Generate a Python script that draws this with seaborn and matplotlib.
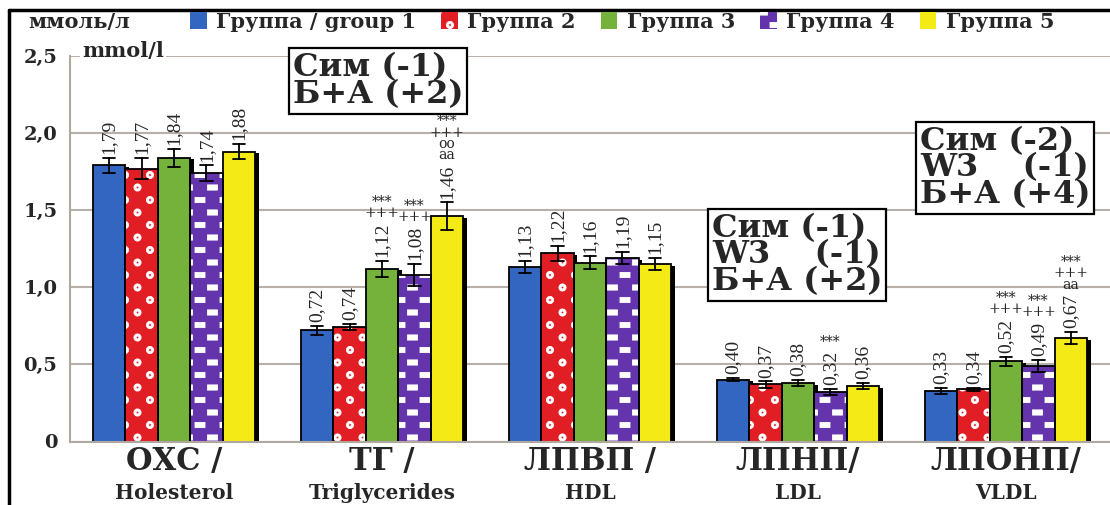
import numpy as np
import pandas as pd
import matplotlib
matplotlib.use("Agg")
import matplotlib.pyplot as plt
import matplotlib.hatch as mhatch
import matplotlib.patheffects as pe
from matplotlib.path import Path
from matplotlib.patches import Rectangle, Patch
from matplotlib.lines import Line2D
import seaborn as sns

# ---------------- data ----------------
lipids = ["ОХС /", "ТГ /", "ЛПВП /", "ЛПНП/", "ЛПОНП/"]
lipids_en = ["Holesterol", "Triglycerides", "HDL", "LDL", "VLDL"]
groups = ["Группа / group 1", "Группа 2", "Группа 3", "Группа 4", "Группа 5"]

g1 = [1.79, 0.72, 1.13, 0.40, 0.33]
g2 = [1.77, 0.74, 1.22, 0.37, 0.34]
g3 = [1.84, 1.12, 1.16, 0.38, 0.52]
g4 = [1.74, 1.08, 1.19, 0.32, 0.49]
g5 = [1.88, 1.46, 1.15, 0.36, 0.67]

e1 = [0.05, 0.03, 0.04, 0.01, 0.02]
e2 = [0.07, 0.02, 0.05, 0.02, 0.01]
e3 = [0.06, 0.05, 0.04, 0.02, 0.03]
e4 = [0.05, 0.07, 0.04, 0.02, 0.04]
e5 = [0.05, 0.09, 0.04, 0.02, 0.04]

sig_lipid = [1, 1, 1, 3, 4, 4, 4]
sig_group = [2, 3, 4, 3, 2, 3, 4]
sig_text = ["***\n+++", "***\n+++", "***\n+++\noo\naa", "***",
            "***\n+++", "***\n+++", "***\n+++\naa"]

box_texts = ["Сим (-1)\nБ+А (+2)",
             "Сим (-1)\nW3    (-1)\nБ+А (+2)",
             "Сим (-2)\nW3    (-1)\nБ+А (+4)"]

colors = ["#3366c0", "#e01e24", "#74b23c", "#6434ac", "#f4ea16"]
hatches = [None, "o", None, "*", None]

values = [g1, g2, g3, g4, g5]
errors = [e1, e2, e3, e4, e5]


# ---------------- custom hatch shapes (staggered dots / dashes) -------------
class _Staggered:
    char = "o"

    def __init__(self, hatch, density):
        n = hatch.count(self.char) if hatch else 0
        pts = []
        if n > 0:
            for r in range(9):
                y = r / 8
                xs = ([0, 0.25, 0.5, 0.75, 1.0] if r % 2 == 0
                      else [0.125, 0.375, 0.625, 0.875])
                for x in xs:
                    pts.append((x, y))
        self.pts = pts
        self.sv, self.sc = self.shape()
        self.num_vertices = len(self.pts) * len(self.sv)

    def set_vertices_and_codes(self, vertices, codes):
        vp, cp = [], []
        for (x, y) in self.pts:
            vp.append(self.sv + [x, y])
            cp.append(self.sc)
        np.concatenate(vp, out=vertices)
        np.concatenate(cp, out=codes)


class RingDots(_Staggered):
    char = "o"

    def shape(self):
        t = np.linspace(0, 2 * np.pi, 25)
        ro, ri = 0.036, 0.014
        outer = np.column_stack([ro * np.cos(t), ro * np.sin(t)])
        inner = np.column_stack([ri * np.cos(t[::-1]), ri * np.sin(t[::-1])])
        v = np.concatenate([outer, inner])
        c = np.full(len(v), Path.LINETO, dtype=Path.code_type)
        c[0] = Path.MOVETO
        c[len(outer) - 1] = Path.CLOSEPOLY
        c[len(outer)] = Path.MOVETO
        c[-1] = Path.CLOSEPOLY
        return v, c


class Dashes(_Staggered):
    char = "*"

    def shape(self):
        w, h = 0.05, 0.026
        v = np.array([[-w, -h], [w, -h], [w, h], [-w, h], [-w, -h]])
        c = np.array([Path.MOVETO, Path.LINETO, Path.LINETO, Path.LINETO,
                      Path.CLOSEPOLY], dtype=Path.code_type)
        return v, c


mhatch._hatch_types = [RingDots, Dashes]

# ---------------- style ----------------
sns.set_style("white")
plt.rcParams["font.family"] = ["DejaVu Serif", "DejaVu Sans"]
plt.rcParams["font.weight"] = "bold"
plt.rcParams["hatch.linewidth"] = 0.6

rows = []
for j, g in enumerate(groups):
    for k, lp in enumerate(lipids):
        v, e = values[j][k], errors[j][k]
        rows.append((lp, g, v - e))
        rows.append((lp, g, v + e))
df = pd.DataFrame(rows, columns=["lipid", "group", "value"])

fig = plt.figure(figsize=(11.1, 5.05), dpi=100)
ax = fig.add_axes([70 / 1110, 1 - 441.5 / 505, 1 - 70 / 1110, 385.5 / 505])

sns.barplot(data=df, x="lipid", y="value", hue="group", order=lipids,
            hue_order=groups, palette=colors, saturation=1, estimator="mean",
            errorbar=lambda x: (x.min(), x.max()), capsize=0.3,
            err_kws={"color": "black", "linewidth": 1.3}, width=0.78, gap=0,
            linewidth=0, legend=False, ax=ax)

label_objs = {}
for j, cont in enumerate(ax.containers):
    for k, p in enumerate(cont):
        p.set_path_effects([pe.SimplePatchShadow(offset=(2.5, -1.2),
                                                 shadow_rgbFace="black", alpha=1.0),
                            pe.Normal()])
        if hatches[j]:
            ax.add_patch(Rectangle((p.get_x(), p.get_y()), p.get_width(),
                                   p.get_height(), fill=False, edgecolor="white",
                                   linewidth=0, hatch=hatches[j], zorder=1.2))
        ax.add_patch(Rectangle((p.get_x(), p.get_y()), p.get_width(),
                               p.get_height(), fill=False, edgecolor="black",
                               linewidth=1.3, zorder=1.3))
        v, e = values[j][k], errors[j][k]
        t = ax.text(p.get_x() + p.get_width() / 2, v + e + 0.025,
                    f"{v:.2f}".replace(".", ","), rotation=90, ha="center",
                    va="bottom", fontsize=14, family="Liberation Serif",
                    fontweight="normal", zorder=4)
        label_objs[(k, j)] = t

ax.set_ylim(0, 2.5)
ax.set_xlim(-0.5, 4.5)
ax.set_yticks([0, 0.5, 1.0, 1.5, 2.0, 2.5])
ax.set_yticklabels(["0", "0,5", "1,0", "1,5", "2,0", "2,5"], fontsize=14,
                   fontweight="bold")
ax.set_xticks(range(5))
ax.set_xticklabels(lipids, fontsize=22, fontweight="bold")
ax.set_xticks([0.5, 1.5, 2.5, 3.5], minor=True)
ax.tick_params(axis="x", which="major", length=0, pad=3)
ax.tick_params(axis="x", which="minor", length=5, color="#b0a8a0", width=1.2)
ax.tick_params(axis="y", length=6, color="#b0a8a0", width=1.5, pad=3)
ax.set_xlabel("")
ax.set_ylabel("")
ax.yaxis.grid(True, color="#b8afa8", linewidth=1.5)
ax.set_axisbelow(True)
for s in ["top", "right"]:
    ax.spines[s].set_visible(False)
for s in ["left", "bottom"]:
    ax.spines[s].set_color("#b0a8a0")
    ax.spines[s].set_linewidth(1.5)

for i, name in enumerate(lipids_en):
    ax.annotate(name, xy=(i, 0), xycoords=("data", "axes fraction"),
                xytext=(0, -29.8), textcoords="offset points", ha="center",
                va="top", fontsize=14.5, fontweight="bold")

# significance marks above value labels
fig.canvas.draw()
inv = ax.transData.inverted()
for k, j, s in zip(sig_lipid, sig_group, sig_text):
    t = label_objs[(k, j)]
    bb = t.get_window_extent()
    top = inv.transform((bb.x0, bb.y1))[1]
    x = t.get_position()[0]
    ax.text(x, top + 0.015, s, ha="center", va="bottom", fontsize=10,
            fontweight="normal", linespacing=0.75, zorder=4)

# legend
handles = [Patch(facecolor=c, edgecolor="white" if h else c, linewidth=0,
                 hatch=h) for c, h in zip(colors, hatches)]
fig.legend(handles, groups, loc="center left",
           bbox_to_anchor=(190 / 1110, 1 - 22 / 505), ncol=5, frameon=False,
           handlelength=0.8, handleheight=0.9, handletextpad=0.45,
           columnspacing=1.2, borderpad=0, borderaxespad=0,
           prop={"weight": "bold", "size": 15})

fig.text(28 / 1110, 1 - 22 / 505, "ммоль/л", ha="left", va="center",
         fontsize=15, fontweight="bold")
fig.text(82 / 1110, 1 - 51 / 505, "mmol/l", ha="left", va="center",
         fontsize=15, fontweight="bold",
         bbox=dict(boxstyle="square,pad=0.1", fc="white", ec="none"))

box_centers = [(378 / 1110, 1 - 81 / 505), (797 / 1110, 1 - 255 / 505),
               (1005 / 1110, 1 - 168 / 505)]
for (bx, by), txt in zip(box_centers, box_texts):
    fig.text(bx, by, txt, ha="center", va="center", multialignment="left",
             fontsize=23, fontweight="bold", linespacing=0.82, zorder=10,
             bbox=dict(boxstyle="square,pad=0.12", fc="white", ec="black",
                       lw=1.6))

# outer frame of the original figure
fig.add_artist(Line2D([9 / 1110, 9 / 1110], [0, 1 - 10 / 505], color="black",
                      lw=2.5, transform=fig.transFigure))
fig.add_artist(Line2D([9 / 1110, 1], [1 - 10 / 505, 1 - 10 / 505],
                      color="black", lw=2.5, transform=fig.transFigure))

fig.savefig("out.png", dpi=100)
